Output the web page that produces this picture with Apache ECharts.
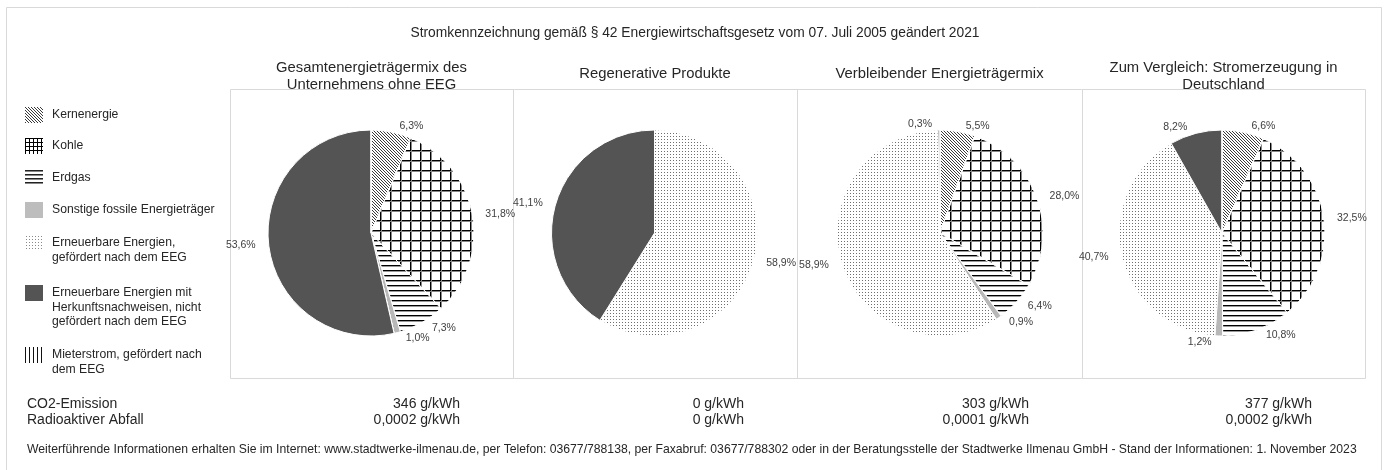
<!DOCTYPE html>
<html>
<head>
<meta charset="utf-8">
<script src="https://cdn.jsdelivr.net/npm/echarts@6/dist/echarts.min.js"></script>
<style>
  html, body { margin: 0; padding: 0; background: #fff; }
  #chart { width: 1384px; height: 470px; }
</style>
</head>
<body>
<div id="chart"></div>
<script>
// ---------- DATA ----------
const categories = [
  'Kernenergie',
  'Kohle',
  'Erdgas',
  'Sonstige fossile Energieträger',
  'Erneuerbare Energien, gefördert nach dem EEG',
  'Erneuerbare Energien mit Herkunftsnachweisen, nicht gefördert nach dem EEG',
  'Mieterstrom, gefördert nach dem EEG'
];
const legendLabels = [
  'Kernenergie',
  'Kohle',
  'Erdgas',
  'Sonstige fossile Energieträger',
  'Erneuerbare Energien,\ngefördert nach dem EEG',
  'Erneuerbare Energien mit\nHerkunftsnachweisen, nicht\ngefördert nach dem EEG',
  'Mieterstrom, gefördert nach\ndem EEG'
];
const panelTitles = [
  'Gesamtenergieträgermix des\nUnternehmens ohne EEG',
  'Regenerative Produkte',
  'Verbleibender Energieträgermix',
  'Zum Vergleich: Stromerzeugung in\nDeutschland'
];
const mixUnternehmen = [6.3, 31.8, 7.3, 1.0, 0, 53.6, 0];
const mixRegenerativ = [0, 0, 0, 0, 58.9, 41.1, 0];
const mixVerbleibend = [5.5, 28.0, 6.4, 0.9, 58.9, 0.3, 0];
const mixDeutschland = [6.6, 32.5, 10.8, 1.2, 40.7, 8.2, 0];
const co2Values = ['346 g/kWh', '0 g/kWh', '303 g/kWh', '377 g/kWh'];
const wasteValues = ['0,0002 g/kWh', '0 g/kWh', '0,0001 g/kWh', '0,0002 g/kWh'];
const mainTitle = 'Stromkennzeichnung gemäß § 42 Energiewirtschaftsgesetz vom 07. Juli 2005 geändert 2021';
const rowLabels = 'CO2-Emission\nRadioaktiver Abfall';
const footerText = 'Weiterführende Informationen erhalten Sie im Internet: www.stadtwerke-ilmenau.de, per Telefon: 03677/788138, per Faxabruf: 03677/788302 oder in der Beratungsstelle der Stadtwerke Ilmenau GmbH - Stand der Informationen: 1. November 2023';

// ---------- PATTERNS ----------
function pattern(w, h, draw) {
  const c = document.createElement('canvas');
  c.width = w; c.height = h;
  const ctx = c.getContext('2d');
  ctx.fillStyle = '#ffffff';
  ctx.fillRect(0, 0, w, h);
  draw(ctx);
  return { image: c, repeat: 'repeat' };
}
function px(ctx, x, y, col) { ctx.fillStyle = col; ctx.fillRect(x, y, 1, 1); }

const pieFills = [
  pattern(3, 3, c => { for (let i = 0; i < 3; i++) px(c, i, i, '#3a3a3a'); }),
  pattern(10, 10, c => { c.fillStyle = '#000'; c.fillRect(0, 0, 10, 1); c.fillRect(0, 0, 1, 10);
                        c.fillStyle = '#888'; c.fillRect(0, 1, 10, 1); c.fillRect(1, 0, 1, 10); }),
  pattern(1, 5, c => { px(c, 0, 0, '#000'); px(c, 0, 1, '#9a9a9a'); }),
  '#b8b8b8',
  pattern(3, 3, c => { px(c, 1, 1, '#6e6e6e'); }),
  '#545454',
  pattern(4, 1, c => { px(c, 0, 0, '#000'); })
];
const legendFills = [
  pieFills[0],
  pattern(4, 4, c => { c.fillStyle = '#000'; c.fillRect(0, 0, 4, 1); c.fillRect(0, 0, 1, 4); }),
  pattern(1, 4, c => { px(c, 0, 0, '#222'); px(c, 0, 1, '#888'); }),
  '#bdbdbd',
  pattern(3, 3, c => { px(c, 1, 1, '#8a8a8a'); }),
  '#545454',
  pattern(4, 1, c => { px(c, 0, 0, '#111'); })
];

// ---------- LAYOUT ----------
const panelLeft = [230, 513, 797, 1082, 1365];
const pieCenters = [371, 654.5, 940, 1222];
const pieCY = 233;
const pieR = 103;

function fmtPct(v) { return v.toFixed(1).replace('.', ',') + '%'; }

const mixes = [mixUnternehmen, mixRegenerativ, mixVerbleibend, mixDeutschland];

const series = mixes.map((vals, k) => ({
  type: 'pie',
  center: [pieCenters[k], pieCY],
  radius: pieR,
  startAngle: 90,
  clockwise: true,
  avoidLabelOverlap: false,
  silent: true,
  animation: false,
  itemStyle: { borderColor: '#ffffff', borderWidth: 1 },
  label: {
    show: true,
    position: 'outside',
    color: '#404040',
    fontFamily: 'Liberation Sans',
    fontSize: 10.5,
    formatter: p => (p.value > 0 ? fmtPct(p.value) : '')
  },
  labelLine: { show: false, length: 6, length2: 2 },
  emphasis: { disabled: true },
  data: categories.map((name, i) => ({
    name, value: vals[i], itemStyle: { color: pieFills[i] }
  }))
}));

// legend vertical centres of the first text line
const legendCenters = [115, 146, 178, 210, 243, 293, 355];
const LH = 14.4;
const legends = categories.map((name, i) => {
  const lines = legendLabels[i].split('\n');
  const blanks = lines.length - 1;
  const text = '\n'.repeat(blanks) + legendLabels[i];
  const nLines = lines.length + blanks;
  const half = Math.max(8, nLines * LH / 2);
  return {
    orient: 'vertical',
    left: 25,
    top: legendCenters[i] - half,
    padding: 0,
    itemWidth: 18,
    itemHeight: 16,
    icon: 'rect',
    selectedMode: false,
    formatter: () => text,
    textStyle: { fontFamily: 'Liberation Sans', fontSize: 12.2, color: '#262626', lineHeight: LH, padding: [0, 0, 0, 4] },
    data: [{ name, itemStyle: { color: legendFills[i], borderWidth: 0 } }]
  };
});

const titleFont = { fontFamily: 'Liberation Sans', fontWeight: 'normal', color: '#262626' };
const titles = [
  { text: mainTitle, left: 695, top: 26, textAlign: 'center', padding: 0,
    textStyle: Object.assign({ fontSize: 13.8 }, titleFont) }
];
panelTitles.forEach((t, k) => {
  const two = t.indexOf('\n') >= 0;
  titles.push({
    text: t, left: (panelLeft[k] + panelLeft[k + 1]) / 2, top: two ? 59 : 65,
    textAlign: 'center', padding: 0,
    textStyle: Object.assign({ fontSize: 14.8, lineHeight: 17 }, titleFont)
  });
});
titles.push({ text: rowLabels, left: 27, top: 396, padding: 0,
  textStyle: Object.assign({ fontSize: 14, lineHeight: 16 }, titleFont) });
co2Values.forEach((v, k) => {
  titles.push({ text: v + '\n' + wasteValues[k], left: panelLeft[k + 1] - 53, top: 396,
    textAlign: 'right', padding: 0,
    textStyle: Object.assign({ fontSize: 14, lineHeight: 16 }, titleFont) });
});
titles.push({ text: footerText, left: 27, top: 444, padding: 0,
  textStyle: Object.assign({ fontSize: 12.2 }, titleFont) });

const borderCol = '#d9d9d9';
const graphics = [
  { type: 'rect', shape: { x: 6.5, y: 7.5, width: 1375, height: 480 },
    style: { fill: null, stroke: borderCol, lineWidth: 1 }, silent: true, z: -10 },
  { type: 'rect', shape: { x: 230.5, y: 89.5, width: 1135, height: 289 },
    style: { fill: null, stroke: borderCol, lineWidth: 1 }, silent: true, z: -10 }
];
[513.5, 797.5, 1082.5].forEach(x => graphics.push({
  type: 'line', shape: { x1: x, y1: 89.5, x2: x, y2: 378.5 },
  style: { stroke: borderCol, lineWidth: 1 }, silent: true, z: -10
}));

const chart = echarts.init(document.getElementById('chart'), null, { renderer: 'canvas' });
chart.setOption({
  backgroundColor: '#ffffff',
  animation: false,
  title: titles,
  legend: legends,
  graphic: graphics,
  series
});
</script>
</body>
</html>
